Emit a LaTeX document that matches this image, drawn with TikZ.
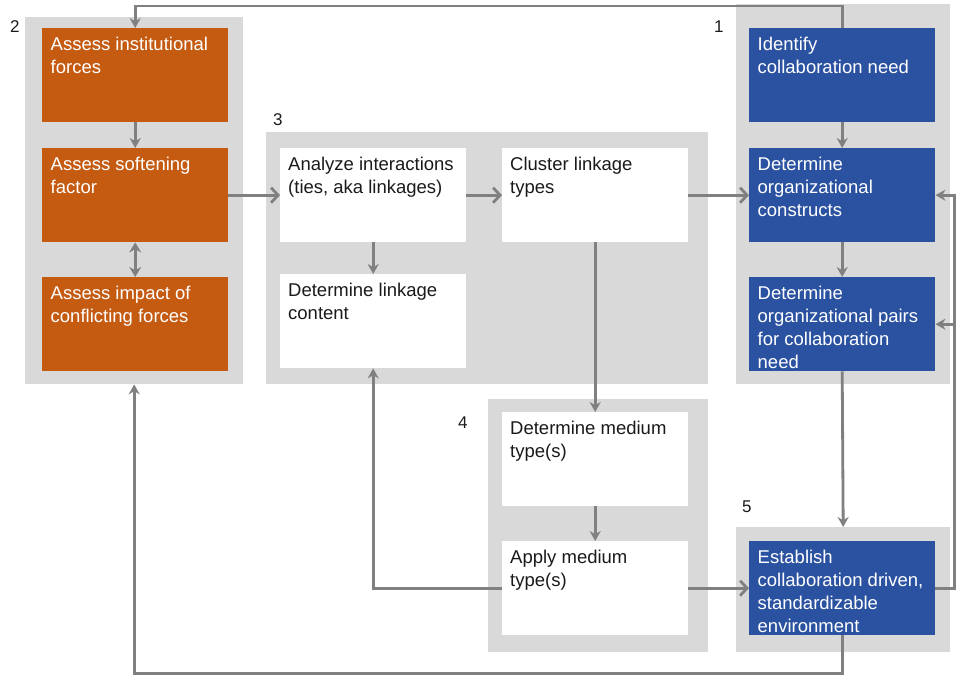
\documentclass[tikz,border=0pt]{standalone}
\usepackage{fontspec}
\setmainfont{Liberation Sans}
\usetikzlibrary{arrows.meta,calc}

\definecolor{orng}{HTML}{C55A11}
\definecolor{navy}{HTML}{2B52A0}
\definecolor{panel}{HTML}{D9D9D9}
\definecolor{wire}{HTML}{808080}
\definecolor{ink}{HTML}{1A1A1A}

% top-aligned multi-line box text: baseline is that of the first line
\newcommand{\boxtext}[1]{\parbox[t]{182pt}{\raggedright #1}}

\tikzset{
  grp/.style={fill=panel, draw=none, inner sep=0pt, anchor=north west},
  stepbox/.style={draw=none, inner sep=0pt, anchor=north west,
                  minimum width=186pt, minimum height=94pt},
  txt/.style={anchor=base west, inner sep=0pt,
              font=\fontsize{18.5pt}{23pt}\selectfont},
  num/.style={anchor=base west, inner sep=0pt, text=ink,
              font=\fontsize{17pt}{20pt}\selectfont},
  conn/.style={draw=wire, line width=2.8pt},
  arr/.style={conn, -{Stealth[length=10pt,width=11pt]}},
  barb/.style={conn, -{Straight Barb[length=7pt,width=15pt]}},
  both/.style={conn, {Stealth[length=10pt,width=12pt]}-{Stealth[length=10pt,width=12pt]}}
}

\begin{document}
\begin{tikzpicture}[x=1pt,y=-1pt]
\useasboundingbox (0,0) rectangle (957,678);

% grey group panels
\node[grp, minimum width=218pt, minimum height=367pt] (g2) at (25,17) {};
\node[grp, minimum width=442pt, minimum height=252pt] (g3) at (266,132) {};
\node[grp, minimum width=214pt, minimum height=380pt] (g1) at (736,4) {};
\node[grp, minimum width=220pt, minimum height=253pt] (g4) at (488,399) {};
\node[grp, minimum width=214pt, minimum height=125pt] (g5) at (736,527) {};

% group numbers
\node[num] (n2) at (10,32) {2};
\node[num] (n1) at (714,32) {1};
\node[num] (n3) at (273,125) {3};
\node[num] (n4) at (458,428) {4};
\node[num] (n5) at (742,512) {5};

% group 2: institutional forces (orange)
\node[stepbox, fill=orng] (o1) at (42,28) {};
\node[stepbox, fill=orng] (o2) at (42,148) {};
\node[stepbox, fill=orng] (o3) at (42,277) {};
\node[txt, text=white] (o1t) at ($(o1.north west)+(8.5,22)$) {\boxtext{Assess institutional\\forces}};
\node[txt, text=white] (o2t) at ($(o2.north west)+(8.5,22)$) {\boxtext{Assess softening\\factor}};
\node[txt, text=white] (o3t) at ($(o3.north west)+(8.5,22)$) {\boxtext{Assess impact of\\conflicting forces}};

% group 3: linkages
\node[stepbox, fill=white] (an) at (280,148) {};
\node[stepbox, fill=white] (lc) at (280,274) {};
\node[stepbox, fill=white] (cl) at (502,148) {};
\node[txt, text=ink] (ant) at ($(an.north west)+(8,22)$) {\boxtext{Analyze interactions\\(ties, aka linkages)}};
\node[txt, text=ink] (lct) at ($(lc.north west)+(8,22)$) {\boxtext{Determine linkage\\content}};
\node[txt, text=ink] (clt) at ($(cl.north west)+(8,22)$) {\boxtext{Cluster linkage\\types}};

% group 1: collaboration need (blue)
\node[stepbox, fill=navy] (i1) at (749,28) {};
\node[stepbox, fill=navy] (c2) at (749,148) {};
\node[stepbox, fill=navy] (pr) at (749,277) {};
\node[txt, text=white] (i1t) at ($(i1.north west)+(8.5,22)$) {\boxtext{Identify\\collaboration need}};
\node[txt, text=white] (c2t) at ($(c2.north west)+(8.5,22)$) {\boxtext{Determine\\organizational\\constructs}};
\node[txt, text=white] (prt) at ($(pr.north west)+(8.5,22)$) {\boxtext{Determine\\organizational pairs\\for collaboration\\need}};

% group 4: medium
\node[stepbox, fill=white] (dm) at (502,412) {};
\node[stepbox, fill=white] (am) at (502,541) {};
\node[txt, text=ink] (dmt) at ($(dm.north west)+(8,22)$) {\boxtext{Determine medium\\type(s)}};
\node[txt, text=ink] (amt) at ($(am.north west)+(8,22)$) {\boxtext{Apply medium\\type(s)}};

% group 5: environment
\node[stepbox, fill=navy] (es) at (749,541) {};
\node[txt, text=white] (est) at ($(es.north west)+(8.5,22)$) {\boxtext{Establish\\collaboration driven,\\standardizable\\environment}};

% connectors
\draw[arr] (i1.north) |- ($(o1.north)+(0,-22)$) -- (o1.north);
\draw[arr] (o1.south) -- (o2.north);
\draw[both] (o2.south) -- (o3.north);
\draw[barb] (o2.east) -- (an.west);
\draw[barb] (an.east) -- (cl.west);
\draw[barb] (cl.east) -- (c2.west);
\draw[arr] (an.south) -- (lc.north);
\draw[arr] (i1.south) -- (c2.north);
\draw[arr] (c2.south) -- (pr.north);
\draw[arr] (cl.south) -- (dm.north);
\draw[arr] (dm.south) -- (am.north);
\draw[arr] (am.west) -| (lc.south);
\draw[barb] (am.east) -- (es.west);
\draw[arr] (pr.south) -- (g5.north);
\draw[arr] (es.east) -- ++(19,0) coordinate (rc) |- (c2.east);
\draw[arr] (rc |- pr.east) -- (pr.east);
\draw[arr] (es.south) |- ($(g2.south)+(0,289)$) -- (g2.south);
\end{tikzpicture}
\end{document}
